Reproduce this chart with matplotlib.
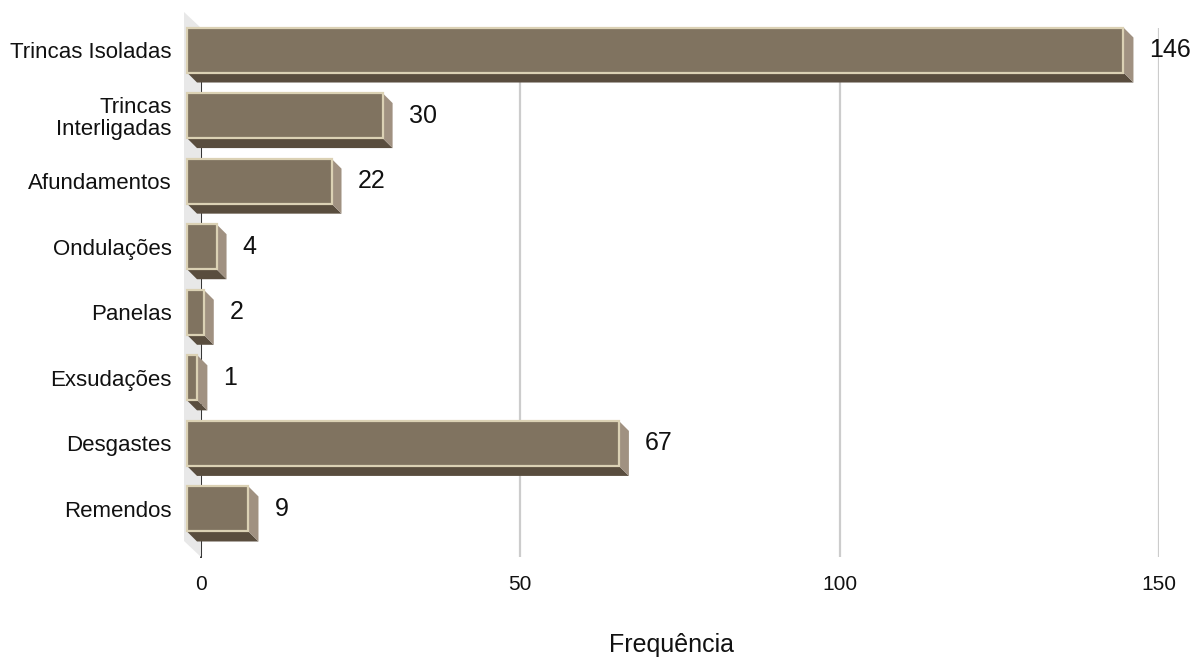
import matplotlib
matplotlib.use("Agg")
import matplotlib.pyplot as plt
from matplotlib.patches import Polygon
from matplotlib.transforms import IdentityTransform, ScaledTranslation

categories = ["Trincas Isoladas", "Trincas\nInterligadas", "Afundamentos", "Ondulações",
              "Panelas", "Exsudações", "Desgastes", "Remendos"]
values = [146, 30, 22, 4, 2, 1, 67, 9]
xticks = [0, 50, 100, 150]
xlabel = "Frequência"

plt.rcParams['font.family'] = ['Liberation Sans', 'DejaVu Sans']

W, H, DPI = 1196, 657, 100
fig = plt.figure(figsize=(W / DPI, H / DPI), dpi=DPI)

# back plane of the 3D box (pixel layout)
ax_l, ax_r, ax_t, ax_b = 201, 1159, 28, 557
ax = fig.add_axes([ax_l / W, (H - ax_b) / H, (ax_r - ax_l) / W, (ax_b - ax_t) / H])
ax.set_xlim(0, 150)
ax.set_ylim(7.534, -0.534)
ax.patch.set_alpha(0)
for s in ["top", "right", "bottom"]:
    ax.spines[s].set_visible(False)
ax.spines["left"].set_color("#333333")
ax.spines["left"].set_linewidth(1.4)
ax.spines["left"].set_zorder(2)

ax.set_xticks(xticks)
ax.set_xticklabels([str(t) for t in xticks])
ax.tick_params(axis="x", length=0, pad=13, labelsize=15, labelcolor="#111111")
ax.xaxis.grid(True, color="#cccccc", linewidth=1.6, zorder=1)
ax.set_axisbelow(True)

pos = list(range(len(categories)))
ax.set_yticks(pos)
ax.set_yticklabels(categories, multialignment="right")
ax.tick_params(axis="y", length=0, pad=21, labelsize=16, labelcolor="#111111")
for lab in ax.get_yticklabels():
    lab.set_transform(lab.get_transform() + ScaledTranslation(0, 13 / DPI, fig.dpi_scale_trans))
    lab.set_linespacing(1.05)

ax.set_xlabel(xlabel, fontsize=18, color="#111111")
ax.xaxis.set_label_coords(0.491, -(645 - ax_b) / (ax_b - ax_t))
ax.xaxis.label.set_va("center")

# helper: data -> image pixel coords (y downwards)
def to_img(x, y):
    dx, dy = ax.transData.transform((x, y))
    return dx, H - dy

def img_poly(pts, **kw):
    disp = [(px, H - py) for px, py in pts]
    p = Polygon(disp, closed=True, transform=IdentityTransform(), **kw)
    fig.add_artist(p)
    return p

# left wall
wall_dx, wall_dy = 17, 16
(x0, yt0) = to_img(0, -0.534)
(_, yb0) = to_img(0, 7.534)
img_poly([(x0, yt0), (x0, yb0), (x0 - wall_dx, yb0 - wall_dy), (x0 - wall_dx, yt0 - wall_dy)],
         facecolor="#e8e8e8", edgecolor="none", zorder=0.5)

# bars
front_dx, front_dy = -10, -13   # front face offset from back plane
depth = 10
half_h = 22.5
front_col = "#807360"
border_col = "#dbd1b4"
side_col = "#a09181"
bottom_col = "#594d3e"

for i, v in enumerate(values):
    xl_b, yc = to_img(0, i)
    xr_b, _ = to_img(v, i)
    xl = xl_b + front_dx - 4
    xr = xr_b + front_dx
    yc_f = yc + front_dy
    yt, yb = yc_f - half_h, yc_f + half_h
    img_poly([(xl, yb), (xr, yb), (xr + depth, yb + depth), (xl + depth, yb + depth)],
             facecolor=bottom_col, edgecolor="none", zorder=3)
    img_poly([(xr, yt), (xr + depth, yt + depth), (xr + depth, yb + depth), (xr, yb)],
             facecolor=side_col, edgecolor="none", zorder=3)
    img_poly([(xl, yt), (xr, yt), (xr, yb), (xl, yb)],
             facecolor=front_col, edgecolor=border_col, linewidth=1.6, zorder=4)
    fig.text((xr + 26) / W, 1 - yc_f / H, str(v), fontsize=18, color="#111111",
             ha="left", va="center")

fig.savefig("out.png", dpi=DPI, facecolor="white")
